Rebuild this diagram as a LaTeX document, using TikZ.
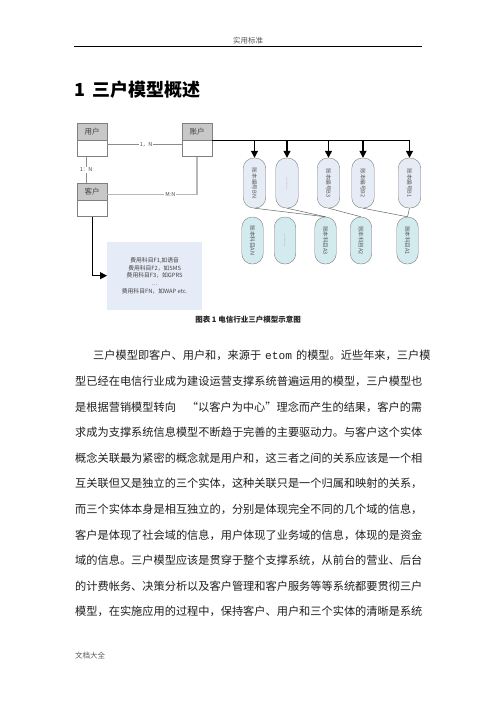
\documentclass[tikz,border=0pt]{standalone}
\usepackage{fontspec}
\newfontfamily\cjk{Noto Sans CJK SC}
\newfontfamily\monof{Liberation Mono}
\usetikzlibrary{arrows.meta,calc}
\XeTeXlinebreaklocale "zh"
\XeTeXlinebreakskip=0pt plus 4pt minus 0.5pt
\definecolor{feefill}{HTML}{E6ECF7}
\definecolor{toppill}{HTML}{E6ECF6}
\definecolor{botpill}{HTML}{D3EAEF}
\definecolor{erhead}{HTML}{C8C8C8}
\newcommand{\bline}[4]{\node[bodytxt] (#1) at #2 {\hbox to #3{#4}};}
\begin{document}
\begin{tikzpicture}[x=1pt,y=-1pt,font=\cjk,
  erhd/.style={draw=black!50, fill=erhead, minimum width=30pt, minimum height=17pt, inner sep=0pt, font=\cjk\fontsize{7.5}{8}\selectfont, text=black!75},
  erbd/.style={draw=black!50, fill=white, minimum width=30pt, minimum height=16pt, inner sep=0pt},
  gline/.style={draw=black!45, line width=0.7pt},
  mnline/.style={draw=black!28, line width=1.6pt},
  lbl/.style={fill=white, inner sep=0.8pt, font=\cjk\fontsize{5.5}{6}\selectfont, text=black!70},
  blk/.style={draw=black, line width=1.2pt},
  blkarrow/.style={draw=black, line width=1.2pt, -{Triangle[length=7pt,width=7pt]}},
  pilltop/.style={draw=black!50, fill=toppill, rounded corners=10.5pt, minimum width=22.5pt, minimum height=50pt, inner sep=0pt, font=\cjk\fontsize{5.6}{6}\selectfont, text=black!65},
  pillbot/.style={draw=black!50, fill=botpill, rounded corners=10.5pt, minimum width=21.5pt, minimum height=47pt, inner sep=0pt, font=\cjk\fontsize{5.6}{6}\selectfont, text=black!65},
  thinln/.style={draw=black!60, line width=0.5pt},
  bodytxt/.style={anchor=west, inner sep=0pt, font=\cjk\fontsize{11.2}{13}\selectfont, text=black!88}
]
\useasboundingbox (0,0) rectangle (496,702);
\fill[white] (0,0) rectangle (496,702);

% header
\node[font=\cjk\fontsize{7.5}{8}\selectfont, text=black!65] (hdr) at (248,40.5) {实用标准};
\coordinate (rl) at (74,46);
\coordinate (rr) at (422,46);
\draw[line width=0.8pt] (rl) -- (rr);

% title
\node[anchor=west, inner sep=0pt, font=\cjk\bfseries\fontsize{18}{20}\selectfont] (title) at (74.5,90) {1\hspace{7pt}三户模型概述};

% ER boxes
\node[erhd, anchor=north west] (yh) at (77,123) {用户};
\node[erbd, anchor=north] (yb) at (yh.south) {};
\node[erhd, anchor=north west] (zh) at (182,123) {账户};
\node[erbd, anchor=north] (zb) at (zh.south) {};
\node[erhd, anchor=north west] (kh) at (77,183) {客户};
\node[erbd, anchor=north] (kb) at (kh.south) {};

\draw[gline] ($(yb.north east)+(0,4)$) -- node[lbl, pos=0.52]{1，N} ($(zb.north west)+(0,4)$);
\draw[gline] ($(yb.south)+(-6,0)$) -- node[lbl]{1：N} ($(kh.north)+(-6,0)$);
\draw[mnline] ($(kh.south east)+(0,-6)$) -| node[lbl, pos=0.35]{M:N} (zb.south);

% pills top
\node[pilltop] (BN) at (254.5,183) {\rotatebox{-90}{账本编号BN}};
\node[pilltop] (BD) at (287,183) {\rotatebox{-90}{……}};
\node[pilltop] (B3) at (328.5,183) {\rotatebox{-90}{账本编号B3}};
\node[pilltop] (B2) at (363,183) {\rotatebox{-90}{账本编号B2}};
\node[pilltop] (B1) at (409.5,183) {\rotatebox{-90}{账本编号B1}};
% pills bottom
\node[pillbot] (AN) at (252.5,240.5) {\rotatebox{-90}{账本科目AN}};
\node[pillbot] (AD) at (285,240.5) {\rotatebox{-90}{……}};
\node[pillbot] (A3) at (325.5,240.5) {\rotatebox{-90}{账本科目A3}};
\node[pillbot] (A2) at (361,240.5) {\rotatebox{-90}{账本科目A2}};
\node[pillbot] (A1) at (407.5,240.5) {\rotatebox{-90}{账本科目A1}};

\draw[thinln] (BN.south) -- (A3.north);
\draw[thinln] (BD.south) -- (A3.north);
\draw[thinln] (B3.south) -- (A2.north);
\draw[thinln] (B2.south) -- (A1.north);
\draw[thinln] (B1.south) -- (A1.north);

% black bus from account
\draw[blk] (zb.north east) -- (B1.north |- zb.north east);
\foreach \p in {BN,BD,B3,B2,B1}{
  \draw[blkarrow] (\p.north |- zb.north east) -- (\p.north);
}

% fee box
\node[anchor=north west, fill=feefill, minimum width=95pt, minimum height=68pt, inner sep=0pt, align=center,
      font=\cjk\fontsize{5.8}{7.6}\selectfont, text=black!75] (fee) at (107,241.5)
  {费用科目F1,如语音\\费用科目F2，如SMS\\费用科目F3，如GPRS\\…\\费用科目FN，如WAP etc.};
\draw[blkarrow] (kb.south) |- (fee.west);

% caption
\node[font=\cjk\bfseries\fontsize{7.5}{8}\selectfont, text=black!85] (cap) at (248,320) {图表 1 电信行业三户模型示意图};

% body text
\bline{l1}{(93,355.7)}{327pt}{三户模型即客户、用户和，来源于\hspace{4pt}{\monof etom}\hspace{4pt}的模型。近些年来，三户模}
\bline{l2}{(75,381.3)}{347pt}{型已经在电信行业成为建设运营支撑系统普遍运用的模型，三户模型也}
\bline{l3}{(75,406.9)}{347pt}{是根据营销模型转向 “以客户为中心”理念而产生的结果，客户的需}
\bline{l4}{(75,432.5)}{347pt}{求成为支撑系统信息模型不断趋于完善的主要驱动力。与客户这个实体}
\bline{l5}{(75,458.1)}{347pt}{概念关联最为紧密的概念就是用户和，这三者之间的关系应该是一个相}
\bline{l6}{(75,483.7)}{347pt}{互关联但又是独立的三个实体，这种关联只是一个归属和映射的关系，}
\bline{l7}{(75,509.3)}{347pt}{而三个实体本身是相互独立的，分别是体现完全不同的几个域的信息，}
\bline{l8}{(75,534.9)}{347pt}{客户是体现了社会域的信息，用户体现了业务域的信息，体现的是资金}
\bline{l9}{(75,560.5)}{347pt}{域的信息。三户模型应该是贯穿于整个支撑系统，从前台的营业、后台}
\bline{l10}{(75,586.1)}{347pt}{的计费帐务、决策分析以及客户管理和客户服务等等系统都要贯彻三户}
\bline{l11}{(75,611.7)}{347pt}{模型，在实施应用的过程中，保持客户、用户和三个实体的清晰是系统}

% footer
\node[anchor=west, inner sep=0pt, font=\cjk\fontsize{7.5}{8}\selectfont, text=black!65] (ftr) at (75,656) {文档大全};
\end{tikzpicture}
\end{document}
